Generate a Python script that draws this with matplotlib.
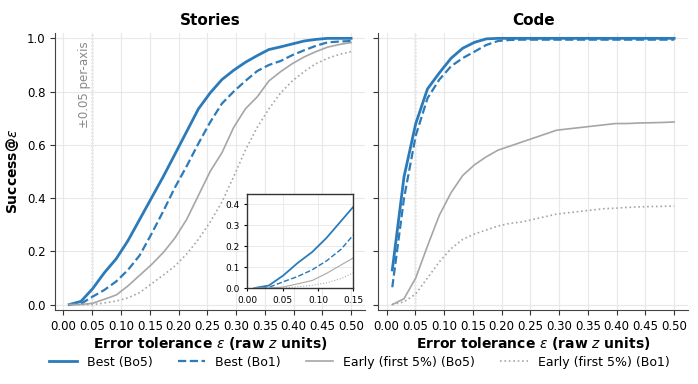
import numpy as np
import matplotlib
matplotlib.use("Agg")
import matplotlib.pyplot as plt

# tolerance grid (25 points from 0.01 to 0.50)
eps = [0.01, 0.0304, 0.0508, 0.0712, 0.0917, 0.1121, 0.1325, 0.1529, 0.1733,
       0.1938, 0.2142, 0.2346, 0.255, 0.2754, 0.2958, 0.3162, 0.3367, 0.3571,
       0.3775, 0.3979, 0.4183, 0.4388, 0.4592, 0.4796, 0.50]

stories_best_bo5 = [0.0, 0.012, 0.06, 0.12, 0.172, 0.24, 0.32, 0.40, 0.48, 0.565, 0.65,
                    0.735, 0.795, 0.845, 0.88, 0.91, 0.935, 0.958, 0.968, 0.979, 0.99,
                    0.996, 1.0, 1.0, 1.0]
stories_best_bo1 = [0.0, 0.003, 0.03, 0.055, 0.087, 0.13, 0.185, 0.265, 0.35, 0.44, 0.52,
                    0.605, 0.685, 0.755, 0.80, 0.84, 0.877, 0.90, 0.915, 0.937, 0.955,
                    0.972, 0.985, 0.988, 0.99]
stories_early_bo5 = [0.0, 0.0, 0.005, 0.02, 0.036, 0.07, 0.11, 0.15, 0.195, 0.25, 0.32,
                     0.41, 0.50, 0.57, 0.665, 0.735, 0.78, 0.84, 0.875, 0.905, 0.93,
                     0.95, 0.967, 0.977, 0.984]
stories_early_bo1 = [0.0, 0.0, 0.0, 0.006, 0.013, 0.025, 0.045, 0.078, 0.11, 0.145, 0.19,
                     0.245, 0.31, 0.385, 0.48, 0.58, 0.665, 0.735, 0.795, 0.84, 0.875,
                     0.905, 0.925, 0.94, 0.95]

code_best_bo5 = [0.13, 0.48, 0.68, 0.81, 0.87, 0.925, 0.963, 0.985, 0.998, 1.0, 1.0,
                 1.0, 1.0, 1.0, 1.0, 1.0, 1.0, 1.0, 1.0, 1.0, 1.0, 1.0, 1.0, 1.0, 1.0]
code_best_bo1 = [0.065, 0.40, 0.635, 0.775, 0.845, 0.895, 0.926, 0.95, 0.975, 0.99,
                 0.994, 0.995, 0.995, 0.995, 0.995, 0.995, 0.995, 0.995, 0.995, 0.995,
                 0.995, 0.995, 0.995, 0.995, 0.995]
code_early_bo5 = [0.0, 0.022, 0.10, 0.22, 0.335, 0.42, 0.485, 0.525, 0.555, 0.58, 0.595,
                  0.61, 0.625, 0.64, 0.655, 0.66, 0.665, 0.67, 0.675, 0.68, 0.68,
                  0.682, 0.683, 0.684, 0.686]
code_early_bo1 = [0.0, 0.01, 0.04, 0.10, 0.16, 0.21, 0.245, 0.265, 0.28, 0.295, 0.305,
                  0.31, 0.32, 0.33, 0.34, 0.345, 0.35, 0.355, 0.36, 0.362, 0.365,
                  0.367, 0.368, 0.369, 0.37]

labels = ["Best (Bo5)", "Best (Bo1)", "Early (first 5%) (Bo5)", "Early (first 5%) (Bo1)"]
blue = "#2b7bba"
gray = "#a6a6a6"
styles = [dict(color=blue, lw=2.0, ls="-"),
          dict(color=blue, lw=1.6, ls="--"),
          dict(color=gray, lw=1.2, ls="-"),
          dict(color=gray, lw=1.2, ls=":")]

fig, axes = plt.subplots(1, 2, figsize=(6.98, 3.84), dpi=100, sharey=True)
fig.subplots_adjust(left=0.079, right=0.986, top=0.914, bottom=0.193, wspace=0.042)

panels = [("Stories", [stories_best_bo5, stories_best_bo1, stories_early_bo5, stories_early_bo1]),
          ("Code", [code_best_bo5, code_best_bo1, code_early_bo5, code_early_bo1])]

xticks = [0.0, 0.05, 0.1, 0.15, 0.2, 0.25, 0.3, 0.35, 0.4, 0.45, 0.5]
for ax, (title, series) in zip(axes, panels):
    for ys, st, lab in zip(series, styles, labels):
        ax.plot(eps, ys, label=lab, **st)
    ax.axvline(0.05, color="#888888", lw=1.0, ls=(0, (1, 1.5)), zorder=0)
    ax.set_title(title, fontsize=11, fontweight="bold")
    ax.set_xlabel(r"Error tolerance $\varepsilon$ (raw $z$ units)", fontsize=10,
                  fontweight="bold", labelpad=1.5)
    ax.set_xticks(xticks)
    ax.set_xticklabels([f"{t:.2f}" for t in xticks])
    ax.tick_params(labelsize=8.5, color="#333333")
    ax.grid(True, color="#e8e8e8", lw=0.8)
    ax.set_axisbelow(True)
    for s in ["top", "right"]:
        ax.spines[s].set_visible(False)
    ax.spines["left"].set_color("#444444")
    ax.spines["bottom"].set_color("#444444")
    ax.set_ylim(-0.02, 1.02)

axes[0].set_ylabel(r"Success@$\varepsilon$", fontsize=10, fontweight="bold")
axes[0].set_yticks([0.0, 0.2, 0.4, 0.6, 0.8, 1.0])
axes[0].text(0.047, 0.99, "±0.05 per-axis", rotation=90, color="#888888",
             fontsize=8.5, ha="right", va="top")

# inset zoom on the low-tolerance region
ins = axes[0].inset_axes([0.62, 0.079, 0.342, 0.34])
for ys, st in zip(panels[0][1], styles):
    st2 = dict(st)
    st2["lw"] = st["lw"] * 0.65
    ins.plot(eps, ys, **st2)
ins.set_xlim(0, 0.15)
ins.set_ylim(0, 0.45)
ins.set_xticks([0.0, 0.05, 0.1, 0.15])
ins.set_yticks([0.0, 0.1, 0.2, 0.3, 0.4])
ins.tick_params(labelsize=6.5, length=2)
ins.grid(True, color="#e8e8e8", lw=0.6)
for s in ins.spines.values():
    s.set_color("#333333")
    s.set_linewidth(1.0)

handles, labs = axes[0].get_legend_handles_labels()
fig.legend(handles, labs, loc="center", ncol=4, frameon=False, fontsize=9,
           bbox_to_anchor=(0.515, 0.057), columnspacing=2.0, handlelength=2.2)

fig.savefig("out.png", dpi=100)
